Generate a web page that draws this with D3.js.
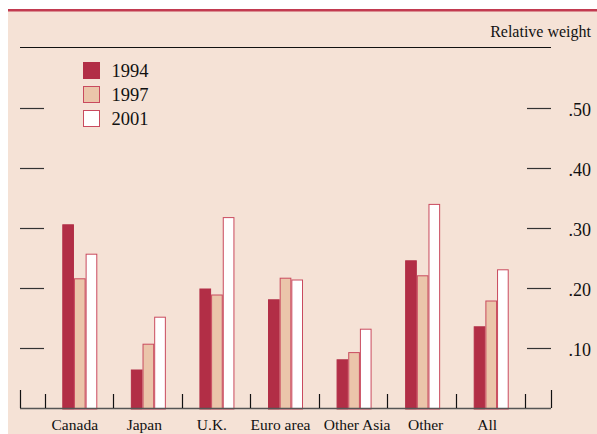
<!DOCTYPE html>
<html>
<head>
<meta charset="utf-8">
<script src="https://cdn.jsdelivr.net/npm/d3@7"></script>
<style>
  body { margin: 0; background: #fff; }
  svg text { font-family: "Liberation Serif", "Times New Roman", serif; fill: #111; }
</style>
</head>
<body>
<div id="vis"></div>
<script>
var categories = ['Canada', 'Japan', 'U.K.', 'Euro area', 'Other Asia', 'Other', 'All'];
var years = ['1994', '1997', '2001'];
var values1994 = [0.307, 0.065, 0.200, 0.182, 0.082, 0.247, 0.137];
var values1997 = [0.217, 0.108, 0.190, 0.218, 0.094, 0.222, 0.180];
var values2001 = [0.258, 0.153, 0.319, 0.215, 0.133, 0.341, 0.232];
var tickValues = [0.1, 0.2, 0.3, 0.4, 0.5];

var width = 597;
var height = 434;
var fills = { '1994': '#b22e46', '1997': '#ebc5aa', '2001': '#ffffff' };
var strokes = { '1994': '#b22e46', '1997': '#c94a5e', '2001': '#c94a5e' };
// labels in the original sit a little off the band centres
var labelShift = [-5, -4, -5, -5, 3, 3, -4];

var svg = d3.select('#vis')
  .append('svg')
  .attr('width', width)
  .attr('height', height);

// panel background and top rule
svg.append('rect')
  .attr('x', 8).attr('y', 9)
  .attr('width', width - 8).attr('height', height - 9)
  .attr('fill', '#f5e2d6');
svg.append('rect')
  .attr('x', 8).attr('y', 9)
  .attr('width', width - 8).attr('height', 2.5)
  .attr('fill', '#c23a50');

var x = d3.scaleBand()
  .domain(categories)
  .range([45.5, 525.5]);

var y = d3.scaleLinear()
  .domain([0, 0.5])
  .range([409, 109]);

var inner = d3.scaleBand()
  .domain(years)
  .range([-17.5, 17.5]);

// top line
svg.append('line')
  .attr('x1', 20).attr('x2', 551)
  .attr('y1', 47.5).attr('y2', 47.5)
  .attr('stroke', '#111').attr('stroke-width', 1);

svg.append('text')
  .attr('x', 591).attr('y', 37)
  .attr('text-anchor', 'end')
  .attr('font-size', 16)
  .text('Relative weight');

// y ticks, left and right
var ticks = svg.append('g');
ticks.selectAll('.lt')
  .data(tickValues)
  .enter()
  .append('line')
  .attr('x1', 20).attr('x2', 44)
  .attr('y1', function (d) { return Math.round(y(d)) - 0.5; })
  .attr('y2', function (d) { return Math.round(y(d)) - 0.5; })
  .attr('stroke', '#333').attr('stroke-width', 1.2);
ticks.selectAll('.rt')
  .data(tickValues)
  .enter()
  .append('line')
  .attr('x1', 527).attr('x2', 551)
  .attr('y1', function (d) { return Math.round(y(d)) - 0.5; })
  .attr('y2', function (d) { return Math.round(y(d)) - 0.5; })
  .attr('stroke', '#333').attr('stroke-width', 1.2);
ticks.selectAll('.tl')
  .data(tickValues)
  .enter()
  .append('text')
  .attr('x', 591)
  .attr('y', function (d) { return y(d) + 6.5; })
  .attr('text-anchor', 'end')
  .attr('font-size', 18)
  .text(function (d) { return d3.format('.2f')(d).replace(/^0/, ''); });

// bars
var series = [values1994, values1997, values2001];
var groups = svg.selectAll('.grp')
  .data(categories)
  .enter()
  .append('g')
  .attr('transform', function (d) {
    return 'translate(' + (x(d) + x.bandwidth() / 2) + ',0)';
  });

groups.selectAll('rect')
  .data(function (d, i) {
    return years.map(function (yr, j) { return { year: yr, value: series[j][i] }; });
  })
  .enter()
  .append('rect')
  .attr('x', function (d) { return inner(d.year) + 0.5; })
  .attr('y', function (d) { return y(d.value); })
  .attr('width', inner.bandwidth() - 1)
  .attr('height', function (d) { return y(0) - y(d.value); })
  .attr('fill', function (d) { return fills[d.year]; })
  .attr('stroke', function (d) { return strokes[d.year]; })
  .attr('stroke-width', 1);

// baseline and category separators
svg.append('line')
  .attr('x1', 20).attr('x2', 551)
  .attr('y1', 408.5).attr('y2', 408.5)
  .attr('stroke', '#555').attr('stroke-width', 1.5);

var seps = categories.map(function (c) { return x(c); }).concat([x.range()[1]]);
svg.selectAll('.sep')
  .data(seps)
  .enter()
  .append('line')
  .attr('x1', function (d) { return Math.round(d) - 0.5; })
  .attr('x2', function (d) { return Math.round(d) - 0.5; })
  .attr('y1', 394).attr('y2', 408)
  .attr('stroke', '#111').attr('stroke-width', 1.2);
[20.5, 551.5].forEach(function (px) {
  svg.append('line')
    .attr('x1', px).attr('x2', px)
    .attr('y1', 390).attr('y2', 408)
    .attr('stroke', '#111').attr('stroke-width', 1.2);
});

svg.selectAll('.cat')
  .data(categories)
  .enter()
  .append('text')
  .attr('x', function (d, i) { return x(d) + x.bandwidth() / 2 + labelShift[i]; })
  .attr('y', 430)
  .attr('text-anchor', 'middle')
  .attr('font-size', 15.5)
  .text(function (d) { return d; });

// legend
var legend = svg.append('g');
var items = legend.selectAll('g')
  .data(years)
  .enter()
  .append('g')
  .attr('transform', function (d, i) { return 'translate(83.5,' + (62.5 + i * 24) + ')'; });
items.append('rect')
  .attr('width', 16).attr('height', 16)
  .attr('fill', function (d) { return fills[d]; })
  .attr('stroke', function (d) { return strokes[d]; })
  .attr('stroke-width', 1);
items.append('text')
  .attr('x', 28).attr('y', 14)
  .attr('font-size', 18.5)
  .text(function (d) { return d; });
</script>
</body>
</html>
